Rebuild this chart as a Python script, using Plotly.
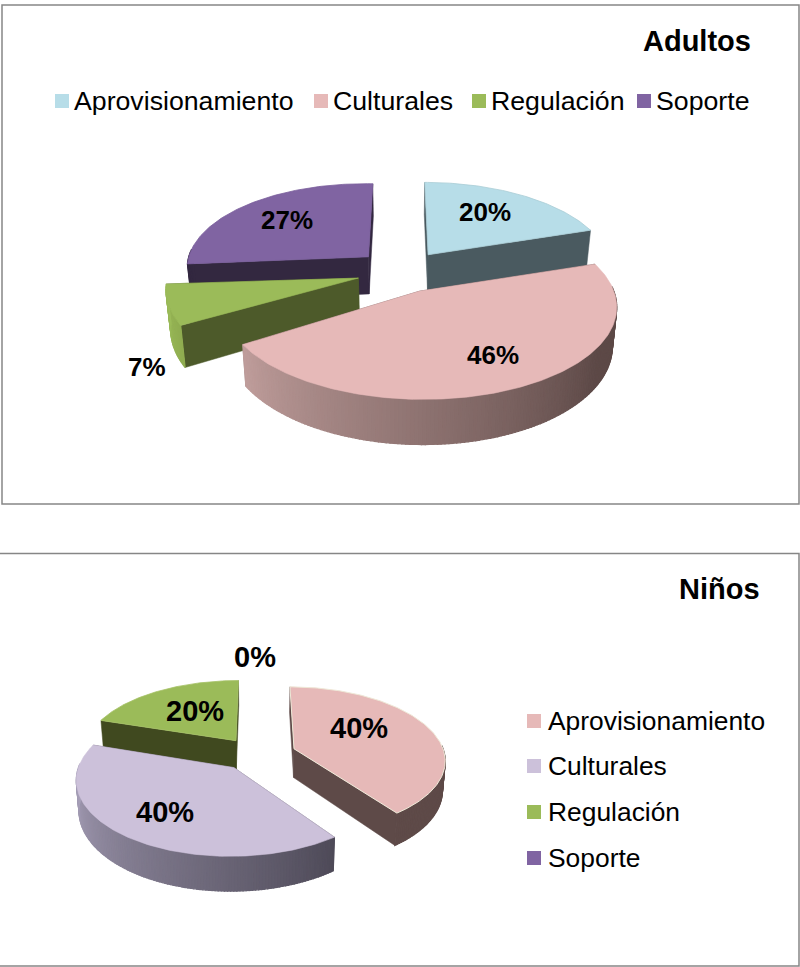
import math
import plotly.graph_objects as go

categories = ["Aprovisionamiento", "Culturales", "Regulación", "Soporte"]
adultos_values = [20, 46, 7, 27]
ninos_values = [40, 40, 20, 0]
adultos_colors = ["#b7dde8", "#e6b9b8", "#9bbb59", "#8064a2"]
ninos_colors = ["#e6b9b8", "#ccc1da", "#9bbb59", "#8064a2"]

FONT = "Liberation Sans"


def hex2rgb(h):
    return tuple(int(h[i:i + 2], 16) for i in (1, 3, 5))


def lerp(c1, c2, t):
    t = max(0.0, min(1.0, t))
    a, b = hex2rgb(c1), hex2rgb(c2)
    return "rgb(%d,%d,%d)" % tuple(round(a[i] + (b[i] - a[i]) * t) for i in range(3))


fig = go.Figure()


def add_poly(xs, ys, color, line=None, lw=1.2):
    fig.add_trace(go.Scatter(
        x=xs + xs[:1], y=ys + ys[:1], mode="lines", fill="toself", fillcolor=color,
        line=dict(color=line or color, width=lw), hoverinfo="skip", showlegend=False))


def draw_pie(values, colors, geo):
    total = sum(values)
    cx, cy, f, g, k, e, D, s = (geo[n] for n in ("cx", "cy", "f", "g", "k", "e", "D", "s"))

    angles = []
    acc = 0.0
    for v in values:
        angles.append((acc, acc + 360.0 * v / total))
        acc += 360.0 * v / total

    for i in geo["order"]:
        if values[i] == 0:
            continue
        a0, a1 = angles[i]
        m = math.radians((a0 + a1) / 2)
        ox, oz = e * math.sin(m), e * math.cos(m)
        dx, dy, sx, sy, shear = geo["tweak"][i]
        wa = 1 + k * oz
        ax, ay = cx + f * ox / wa, cy - g * oz / wa

        def adjust(x, y):
            return (ax + sx * (x - ax) + dx,
                    ay + sy * (y - ay) + shear * (x - ax) + dy)

        def top(X, Z):
            w = 1 + k * Z
            return adjust(cx + f * X / w, cy - g * Z / w)

        def bot(X, Z):
            w = 1 + k * Z
            return adjust(cx + s * f * X / w, cy - g * Z / w + D / w)

        n = max(4, int(a1 - a0))
        th = [math.radians(a0 + (a1 - a0) * j / n) for j in range(n + 1)]
        pts = [(ox + math.sin(t), oz + math.cos(t)) for t in th]
        apex = (ox, oz)
        dark = geo["wall"][i]
        # radial walls, back one first
        walls = sorted([pts[0], pts[-1]], key=lambda p: -p[1])
        for p in walls:
            q = [top(*apex), top(*p), bot(*p), bot(*apex)]
            add_poly([c[0] for c in q], [c[1] for c in q], dark, lw=0.5)
        # curved outer wall with a gradient along the angle
        for j in range(n):
            p0, p1 = pts[j], pts[j + 1]
            if (p0[1] + p1[1]) / 2 - oz > 0.05:
                continue
            q = [top(*p0), top(*p1), bot(*p1), bot(*p0)]
            deg = math.degrees((th[j] + th[j + 1]) / 2)
            lo, hi, c_lo, c_hi = geo["arc"][i]
            col = lerp(c_lo, c_hi, (deg - lo) / (hi - lo))
            add_poly([c[0] for c in q], [c[1] for c in q], col, lw=1.2)
        # top face
        face = [top(*apex)] + [top(*p) for p in pts]
        add_poly([c[0] for c in face], [c[1] for c in face], colors[i],
                 line=geo["edge"][i], lw=geo["edge_w"][i])


adultos_geo = dict(
    cx=402, cy=272, f=183, g=88, k=0.15, e=0.25, D=38, s=0.98,
    order=[3, 0, 2, 1],
    tweak=[(0, 0, 1.012, 1, 0), (-2.5, -1.5, 1.025, 0.97, 0), (0, -1.5, 1.02, 1, 0.03), (0, -1, 1, 1, 0.02)],
    wall=["#4a5a60", "#5e4a48", "#4d5a2a", "#332840"],
    arc=[(0, 90, "#4a5a60", "#4a5a60"), (125, 237, "#5d4947", "#bf9d9b"),
         (237, 263, "#8fac50", "#9bbb59"), (263, 360, "#332840", "#332840")],
    edge=["#a9cdd6", "#e6b9b8", "#9bbb59", "#7a5e9c"], edge_w=[0.8, 0.6, 0.6, 0.8],
)

ninos_geo = dict(
    cx=258, cy=754, f=156, g=72, k=0.14, e=0.235, D=29, s=0.985,
    order=[2, 0, 1],
    tweak=[(1.5, 0, 0.965, 1, 0), (-2, -0.5, 0.97, 1, 0), (-1, 0, 0.98, 1, 0), (0, 0, 1, 1, 0)],
    wall=["#5e4a48", "#4e4a58", "#40491f", "#332840"],
    arc=[(0, 144, "#5e4a48", "#5e4a48"), (144, 285, "#4e4a58", "#b4acc6"),
         (288, 360, "#40491f", "#40491f"), (0, 1, "#332840", "#332840")],
    edge=["#efe9d8", "#ccc1da", "#a6c266", "#8064a2"], edge_w=[1.0, 0.6, 0.8, 0.6],
)

draw_pie(adultos_values, adultos_colors, adultos_geo)
draw_pie(ninos_values, ninos_colors, ninos_geo)

shapes = [
    dict(type="rect", x0=2, y0=5, x1=799, y1=504, line=dict(color="#868686", width=1.5)),
    dict(type="rect", x0=-2, y0=553.5, x1=799, y1=966, line=dict(color="#868686", width=1.5)),
]
annotations = []


def text(x, y, s, size, bold=False, anchor="center"):
    annotations.append(dict(x=x, y=y, text=f"<b>{s}</b>" if bold else s, showarrow=False,
                            xanchor=anchor, yanchor="middle", xref="x", yref="y",
                            font=dict(family=FONT, size=size, color="#000000")))


text(753, 41, "Adultos", 29, True, "right")
text(762, 589, "Niños", 29, True, "right")

for name, col, sx in zip(categories, adultos_colors, [55, 314, 472, 637]):
    shapes.append(dict(type="rect", x0=sx, x1=sx + 14, y0=94, y1=108, fillcolor=col, line=dict(width=0)))
    text(sx + 16.5, 101, name, 26.7, False, "left")

for name, col, sy in zip(categories, ninos_colors, [721, 766, 812, 858]):
    shapes.append(dict(type="rect", x0=527, x1=541, y0=sy - 7, y1=sy + 7, fillcolor=col, line=dict(width=0)))
    text(545.5, sy, name, 26.4, False, "left")

for v, (x, y) in zip(adultos_values, [(485, 212), (493, 355), (147, 367), (287, 220)]):
    text(x, y, f"{v}%", 26, True)
for v, (x, y) in zip(ninos_values, [(359, 728), (165, 812), (195, 711), (255, 657)]):
    text(x, y, f"{v}%", 29, True)

fig.update_layout(
    width=800, height=967, margin=dict(l=0, r=0, t=0, b=0),
    paper_bgcolor="white", plot_bgcolor="white", showlegend=False,
    xaxis=dict(range=[0, 800], visible=False, fixedrange=True),
    yaxis=dict(range=[967, 0], visible=False, fixedrange=True),
    shapes=shapes, annotations=annotations,
)
fig.write_html("out.html", post_script="document.body.style.margin='0';",
               config={"displayModeBar": False})
